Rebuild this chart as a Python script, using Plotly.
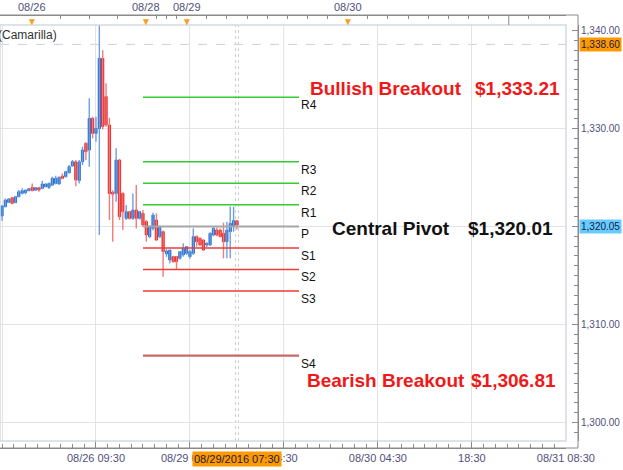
import plotly.graph_objects as go

# ---------------- data ----------------
bar_t = list(range(-28, 43))  # 30-minute bars, 0 = 08/26 09:30
opens = [1321.07, 1322.02, 1322.46, 1322.94, 1322.43, 1323.04, 1323.38, 1323.45, 1323.66, 1324.00,
         1323.72, 1323.96, 1323.89, 1324.06, 1324.00, 1324.23, 1324.40, 1324.34, 1325.15, 1325.09,
         1325.49, 1326.18, 1326.60, 1324.70, 1326.62, 1328.49, 1327.81, 1331.05, 1329.51, 1330.00,
         1337.17, 1333.26, 1330.37, 1323.50, 1323.38, 1326.79, 1323.38, 1320.83, 1321.51, 1320.83,
         1321.69, 1320.83, 1321.34, 1320.49, 1318.96, 1319.81, 1320.66, 1318.96, 1319.47, 1317.20,
         1316.58, 1316.92, 1316.92, 1316.75, 1317.09, 1317.26, 1316.92, 1317.26, 1318.96, 1318.79,
         1318.62, 1318.11, 1318.11, 1319.13, 1319.64, 1319.64, 1319.30, 1318.45, 1319.47, 1320.00,
         1320.60]
highs = [1322.20, 1322.87, 1322.90, 1323.00, 1323.10, 1323.72, 1323.90, 1323.78, 1323.90, 1324.40,
         1324.00, 1324.06, 1324.68, 1324.40, 1324.50, 1325.09, 1325.19, 1325.10, 1325.43, 1325.70,
         1326.28, 1326.79, 1326.80, 1326.80, 1328.15, 1328.60, 1333.09, 1331.20, 1331.20, 1344.00,
         1338.00, 1334.62, 1331.10, 1323.70, 1327.98, 1326.90, 1323.50, 1322.20, 1321.60, 1323.38,
         1324.24, 1321.60, 1321.68, 1320.66, 1320.10, 1321.40, 1321.34, 1320.10, 1319.60, 1317.70,
         1317.60, 1317.00, 1317.00, 1317.50, 1318.28, 1318.00, 1317.60, 1319.81, 1319.10, 1318.90,
         1318.70, 1318.40, 1319.40, 1319.98, 1319.90, 1319.80, 1320.39, 1320.49, 1322.03, 1322.03,
         1320.66]
lows = [1320.59, 1321.95, 1322.40, 1322.26, 1322.40, 1322.98, 1323.28, 1323.30, 1323.60, 1323.60,
        1323.65, 1323.55, 1323.80, 1324.00, 1323.83, 1324.13, 1324.30, 1324.30, 1324.82, 1325.00,
        1325.42, 1326.11, 1324.10, 1324.40, 1326.28, 1326.79, 1326.11, 1329.00, 1328.66, 1319.13,
        1329.90, 1330.20, 1320.66, 1318.45, 1322.53, 1320.66, 1319.64, 1320.66, 1320.70, 1320.66,
        1319.80, 1320.70, 1319.98, 1318.45, 1318.80, 1319.60, 1318.50, 1318.80, 1314.87, 1316.90,
        1316.24, 1316.30, 1315.56, 1316.60, 1316.90, 1317.10, 1316.70, 1317.10, 1317.94, 1318.00,
        1317.50, 1317.90, 1318.00, 1319.00, 1319.00, 1318.90, 1316.75, 1316.75, 1316.75, 1319.47,
        1319.70]
closes = [1322.09, 1322.70, 1322.80, 1322.36, 1323.04, 1323.55, 1323.66, 1323.72, 1323.86, 1323.66,
          1323.96, 1323.72, 1324.34, 1324.34, 1324.40, 1324.92, 1324.92, 1325.02, 1324.92, 1325.60,
          1326.11, 1326.62, 1324.75, 1326.60, 1327.81, 1327.64, 1331.05, 1329.51, 1330.02, 1337.17,
          1330.20, 1330.37, 1323.38, 1323.30, 1326.79, 1321.00, 1321.51, 1321.51, 1320.83, 1321.68,
          1320.83, 1321.51, 1320.15, 1319.13, 1319.98, 1321.17, 1318.62, 1319.98, 1317.43, 1317.50,
          1317.60, 1316.41, 1316.41, 1317.43, 1317.77, 1317.94, 1317.43, 1318.96, 1318.45, 1318.11,
          1317.60, 1318.28, 1319.30, 1319.81, 1319.13, 1318.96, 1318.45, 1319.64, 1320.32, 1320.60,
          1320.15]

pivot_names = ["R4", "R3", "R2", "R1", "P", "S1", "S2", "S3", "S4"]
pivot_values = [1333.21, 1326.61, 1324.41, 1322.21, 1320.01, 1317.81, 1315.61, 1313.41, 1306.81]
pivot_colors = ["#33cc33", "#33cc33", "#33cc33", "#33cc33", "#a6a6a6",
                "#ee3b3b", "#ee3b3b", "#ee3b3b", "#c86a6a"]
pivot_widths = [1.5, 1.5, 1.5, 1.5, 2, 1.5, 1.5, 1.5, 2.2]
pivot_span = [14, 60.5]

bottom_tick_t = [0, 28, 56, 84, 112, 140]
bottom_tick_text = ["08/26 09:30", "08/29 00:30", "14:30", "08/30 04:30", "18:30", "08/31 08:30"]
grid_t = [-28, 0, 28, 56, 84, 112, 140]
day_t = [-19, 15, 27, 75]
day_text = ["08/26", "08/28", "08/29", "08/30"]
ruler_t = [-10.5, -2, 6.5, 18, 21, 24, 33, 39, 45, 51, 57, 63, 69, 81, 87, 93, 99, 105, 111, 117, 129, 135]
ruler_tall_t = [123]
cross_t = 42
cross_label = "08/29/2016 07:30"
y_grid = [1300, 1310, 1320, 1330]
last_high_marker = 1338.60
last_price_marker = 1320.05

XR = [-28.6, 140.05]
YR = [1298.09, 1340.58]

W, H = 623, 470
ML, MR, MT, MB = 0, 45, 15, 22
PW, PH = W - ML - MR, H - MT - MB  # 578 x 433
XD = [0, 566 / PW]
YD = [7 / PH, 423 / PH]

FONT_FAM = "Liberation Sans, Arial, sans-serif"
AX_FONT = dict(family=FONT_FAM, size=11, color="#50507a")
AXR_FONT = dict(family=FONT_FAM, size=10, color="#50507a")
FRAME = "#8a8a8a"
UP_BODY, DN_BODY = "#0b5cc8", "#e60a0a"
UP_WICK, DN_WICK = "#6f9fe0", "#f07a7a"

fig = go.Figure()

# wicks
for up in (True, False):
    wx, wy = [], []
    for t, o, h, l, c in zip(bar_t, opens, highs, lows, closes):
        if (c >= o) == up:
            wx += [t, t, None]
            wy += [l, h, None]
    fig.add_trace(go.Scatter(x=wx, y=wy, mode="lines", hoverinfo="skip",
                             line=dict(color=UP_WICK if up else DN_WICK, width=1.4),
                             showlegend=False))

# bodies
body_base = [min(o, c) for o, c in zip(opens, closes)]
body_len = [abs(c - o) for o, c in zip(opens, closes)]
body_col = [UP_BODY if c >= o else DN_BODY for o, c in zip(opens, closes)]
fig.add_trace(go.Bar(x=bar_t, y=body_len, base=body_base, width=0.7,
                     marker=dict(color=body_col, line=dict(color=body_col, width=0.7)),
                     showlegend=False, hoverinfo="skip"))

# pivot lines
for name, v, col, w in zip(pivot_names, pivot_values, pivot_colors, pivot_widths):
    fig.add_trace(go.Scatter(x=pivot_span, y=[v, v], mode="lines",
                             line=dict(color=col, width=w), showlegend=False, hoverinfo="skip"))
    fig.add_annotation(x=pivot_span[1], y=v, xref="x", yref="y", text=name, showarrow=False,
                       xanchor="left", yanchor="top", xshift=0, yshift=1,
                       font=dict(family="Liberation Sans, Arial", size=12, color="#111111"))

# dummy traces for auxiliary axes
fig.add_trace(go.Scatter(x=[None], y=[None], xaxis="x2", yaxis="y2", showlegend=False))
fig.add_trace(go.Scatter(x=[None], y=[None], xaxis="x3", yaxis="y", showlegend=False))

fig.update_layout(
    width=W, height=H, margin=dict(l=ML, r=MR, t=MT, b=MB, autoexpand=False),
    paper_bgcolor="white", plot_bgcolor="white", showlegend=False, barmode="overlay",
    hovermode=False,
    xaxis=dict(domain=XD, range=XR, anchor="y", showticklabels=False, ticks="", automargin=False,
               tickvals=grid_t, showgrid=True, gridcolor="#e3e3e3", gridwidth=1,
               zeroline=False, showline=False, rangeslider=dict(visible=False), fixedrange=True),
    xaxis2=dict(overlaying="x", anchor="free", position=0, range=XR, side="bottom", automargin=False,
                tickvals=bottom_tick_t, ticktext=bottom_tick_text, ticks="inside", ticklen=8,
                tickcolor=FRAME, showline=True, linecolor=FRAME, showgrid=False, zeroline=False,
                tickfont=AX_FONT,
                minor=dict(tick0=0, dtick=3.5, ticks="inside", ticklen=4, tickcolor=FRAME)),
    xaxis3=dict(overlaying="x", anchor="free", position=1, range=XR, side="top", automargin=False,
                tickvals=ruler_t, ticks="inside", ticklen=3, tickcolor=FRAME,
                showticklabels=False, showline=True, linecolor=FRAME, showgrid=False, zeroline=False),
    yaxis=dict(domain=YD, range=YR, side="right", showticklabels=False, ticks="", automargin=False,
               tickvals=y_grid, showgrid=True, gridcolor="#e3e3e3", zeroline=False, showline=False,
               fixedrange=True),
    yaxis2=dict(overlaying="y", anchor="free", position=1, side="right", range=YR, automargin=False,
                dtick=10, tick0=1300, tickformat=",.2f", ticks="inside", ticklen=6, tickcolor=FRAME,
                showline=True, linecolor=FRAME, showgrid=False, zeroline=False, tickfont=AXR_FONT,
                minor=dict(dtick=1, ticks="inside", ticklen=4, tickcolor=FRAME)),
)

shapes = []
# inner plot border
shapes.append(dict(type="rect", xref="paper", yref="paper", x0=XD[0], x1=XD[1], y0=YD[0], y1=YD[1],
                   line=dict(color="#d3dae3", width=1.5), layer="above"))
# outer frame
shapes.append(dict(type="line", xref="paper", yref="paper", x0=0, x1=1, y0=1, y1=1, line=dict(color=FRAME, width=1)))
shapes.append(dict(type="line", xref="paper", yref="paper", x0=0, x1=1, y0=0, y1=0, line=dict(color=FRAME, width=1)))
shapes.append(dict(type="line", xref="paper", yref="paper", x0=1, x1=1, y0=0, y1=1, line=dict(color=FRAME, width=1)))
# tall ruler tick
for rt in ruler_tall_t:
    shapes.append(dict(type="line", xref="x", yref="paper", x0=rt, x1=rt, y0=YD[1], y1=1,
                       line=dict(color=FRAME, width=1)))
# last high dashed line
shapes.append(dict(type="line", xref="paper", yref="y", x0=0, x1=XD[1], y0=last_high_marker, y1=last_high_marker,
                   line=dict(color="#d0d0d0", width=1, dash="dash"), layer="below"))
# crosshair dotted double line
for dx in (-0.45, 0.45):
    shapes.append(dict(type="line", xref="x", yref="paper", x0=cross_t + dx, x1=cross_t + dx, y0=YD[0], y1=YD[1],
                       line=dict(color="#cfcfcf", width=1, dash="dot"), layer="below"))
fig.update_layout(shapes=shapes)

ann = []
# top ruler day labels and markers
for dt, txt in zip(day_t, day_text):
    ann.append(dict(x=dt, y=1, xref="x", yref="paper", text=txt, showarrow=False, yanchor="bottom",
                    yshift=0, font=AX_FONT))
    ann.append(dict(x=dt, y=1, xref="x", yref="paper", text="▼", showarrow=False, yanchor="top",
                    yshift=3, font=dict(size=10, color="#f5a020")))
# right axis highlight boxes
for v, bg in ((last_high_marker, "#ff9900"), (last_price_marker, "#66ccff")):
    ann.append(dict(x=1, y=v, xref="paper", yref="y", text=f"{v:,.2f}", showarrow=False,
                    xanchor="left", yanchor="middle", xshift=1, bgcolor=bg, borderpad=1,
                    font=dict(family=FONT_FAM, size=10, color="#1a1a40")))
# crosshair time label
ann.append(dict(x=cross_t, y=0, xref="x", yref="paper", text=cross_label, showarrow=False,
                yanchor="top", yshift=-3, bgcolor="#ff9900", borderpad=1,
                font=dict(family=FONT_FAM, size=11, color="#1a1a40")))
# indicator name (clipped at left)
ann.append(dict(x=59 / PW, y=YD[1], xref="paper", yref="paper", text="Pivot (Camarilla)", showarrow=False,
                xanchor="right", yanchor="top", yshift=-1,
                font=dict(family="Liberation Sans, Arial", size=12, color="#333333")))

BIG = dict(family="Liberation Sans, Arial", size=19, color="#f01818")
BIGK = dict(family="Liberation Sans, Arial", size=19, color="#111111")
ann.append(dict(x=63.2, y=pivot_values[0], xref="x", yref="y", text="<b>Bullish Breakout</b>", showarrow=False,
                xanchor="left", yanchor="middle", yshift=9, font=BIG))
ann.append(dict(x=138.8, y=pivot_values[0], xref="x", yref="y", text=f"<b>${pivot_values[0]:,.2f}</b>", showarrow=False,
                xanchor="right", yanchor="middle", yshift=9, font=BIG))
ann.append(dict(x=69.7, y=pivot_values[4], xref="x", yref="y", text="<b>Central Pivot</b>", showarrow=False,
                xanchor="left", yanchor="middle", yshift=-2, font=BIGK))
ann.append(dict(x=136.7, y=pivot_values[4], xref="x", yref="y", text=f"<b>${pivot_values[4]:,.2f}</b>", showarrow=False,
                xanchor="right", yanchor="middle", yshift=-2, font=BIGK))
ann.append(dict(x=62.3, y=pivot_values[8], xref="x", yref="y", text="<b>Bearish Breakout</b>", showarrow=False,
                xanchor="left", yanchor="middle", yshift=-25, font=BIG))
ann.append(dict(x=137.6, y=pivot_values[8], xref="x", yref="y", text=f"<b>${pivot_values[8]:,.2f}</b>", showarrow=False,
                xanchor="right", yanchor="middle", yshift=-25, font=BIG))

for a in ann:
    fig.add_annotation(**a)

fig.write_html("out.html", config={"displayModeBar": False, "staticPlot": True},
               post_script="document.body.style.margin='0';document.body.style.padding='0';"
                           "document.documentElement.style.overflow='hidden';")
